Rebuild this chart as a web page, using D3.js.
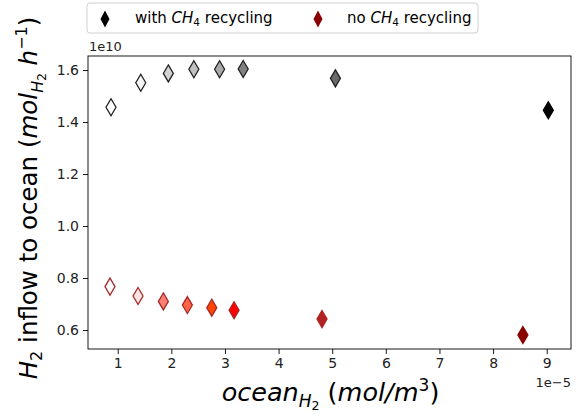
<!DOCTYPE html>
<html>
<head>
<meta charset="utf-8">
<script src="https://cdn.jsdelivr.net/npm/d3@7"></script>
<style>
  body { margin: 0; background: #fff; }
  svg { display: block; font-family: "DejaVu Sans", sans-serif; }
</style>
</head>
<body>
<div id="chart"></div>
<script>
// data (x in mol/m3, y in mol/h)
var oceanWith  = [0.875e-5, 1.43e-5, 1.944e-5, 2.42e-5, 2.90e-5, 3.34e-5, 5.06e-5, 9.03e-5];
var inflowWith = [1.457e10, 1.551e10, 1.587e10, 1.603e10, 1.603e10, 1.604e10, 1.568e10, 1.445e10];
var fillWith   = ["#ffffff", "#f5f5f5", "#d3d3d3", "#c0c0c0", "#a9a9a9", "#808080", "#696969", "#000000"];

var oceanNo  = [0.856e-5, 1.379e-5, 1.851e-5, 2.299e-5, 2.754e-5, 3.17e-5, 4.81e-5, 8.556e-5];
var inflowNo = [0.767e10, 0.731e10, 0.710e10, 0.696e10, 0.686e10, 0.676e10, 0.642e10, 0.581e10];
var fillNo   = ["#ffffff", "#ffe4e1", "#fa8072", "#ff6347", "#ff4500", "#ff0000", "#b22222", "#8b0000"];

var xTicks = [1e-5, 2e-5, 3e-5, 4e-5, 5e-5, 6e-5, 7e-5, 8e-5, 9e-5];
var yTicks = [0.6e10, 0.8e10, 1.0e10, 1.2e10, 1.4e10, 1.6e10];

var W = 586, H = 418;
var margin = {top: 56, right: 15, bottom: 69, left: 88};
var width = W - margin.left - margin.right,
    height = H - margin.top - margin.bottom;

var svg = d3.select("#chart").append("svg")
  .attr("width", W)
  .attr("height", H);

var g = svg.append("g")
  .attr("transform", "translate(" + margin.left + "," + margin.top + ")");

var x = d3.scaleLinear().domain([0.446e-5, 9.453e-5]).range([0, width]);
var y = d3.scaleLinear().domain([0.527e10, 1.654e10]).range([height, 0]);

// axes
var xAxis = g.append("g")
  .attr("transform", "translate(0," + height + ")")
  .call(d3.axisBottom(x).tickValues(xTicks).tickSize(5).tickPadding(4)
    .tickFormat(function(d) { return Math.round(d / 1e-5); }));
var yAxis = g.append("g")
  .call(d3.axisLeft(y).tickValues(yTicks).tickSize(5).tickPadding(4)
    .tickFormat(function(d) { return (d / 1e10).toFixed(1); }));

[xAxis, yAxis].forEach(function(a) {
  a.selectAll("text").attr("font-size", 14).attr("fill", "#222").attr("font-family", "DejaVu Sans");
  a.selectAll("line").attr("stroke", "#000").attr("stroke-width", 0.9);
  a.select(".domain").remove();
});

g.append("rect")
  .attr("width", width).attr("height", height)
  .attr("fill", "none").attr("stroke", "#000").attr("stroke-width", 0.9);

// thin diamond marker
function diamond(cx, cy, hw, hh) {
  return "M" + cx + "," + (cy - hh) + "L" + (cx + hw) + "," + cy +
         "L" + cx + "," + (cy + hh) + "L" + (cx - hw) + "," + cy + "Z";
}

g.selectAll(".ptWith")
  .data(oceanWith)
  .enter().append("path")
  .attr("class", "ptWith")
  .attr("d", function(d, i) { return diamond(x(d), y(inflowWith[i]), 5, 8.5); })
  .attr("fill", function(d, i) { return fillWith[i]; })
  .attr("stroke", function(d, i) { return i == 7 ? "#000" : "#222"; })
  .attr("stroke-width", 1.3);

g.selectAll(".ptNo")
  .data(oceanNo)
  .enter().append("path")
  .attr("class", "ptNo")
  .attr("d", function(d, i) { return diamond(x(d), y(inflowNo[i]), 5, 8.5); })
  .attr("fill", function(d, i) { return fillNo[i]; })
  .attr("stroke", function(d, i) { return i >= 6 ? fillNo[i] : "#a52a2a"; })
  .attr("stroke-width", 1.3);

// offset texts
svg.append("text")
  .attr("x", margin.left + 1).attr("y", 51)
  .attr("font-size", 13).attr("fill", "#222")
  .text("1e10");
svg.append("text")
  .attr("x", W - margin.right).attr("y", 387)
  .attr("text-anchor", "end")
  .attr("font-size", 13).attr("fill", "#222")
  .text("1e\u22125");

// x label
var xl = svg.append("text")
  .attr("x", margin.left + width / 2 + 1).attr("y", 401)
  .attr("text-anchor", "middle")
  .attr("font-size", 25.5);
xl.append("tspan").attr("font-style", "italic").text("ocean");
xl.append("tspan").attr("font-style", "italic").attr("font-size", 17).attr("dy", 6).text("H");
xl.append("tspan").attr("font-size", 12.5).attr("dy", 3).text("2");
xl.append("tspan").attr("dy", -9).text(" (");
xl.append("tspan").attr("font-style", "italic").text("mol/m");
xl.append("tspan").attr("font-size", 17).attr("dy", -10).text("3");
xl.append("tspan").attr("dy", 10).text(")");

// y label
var yl = svg.append("text")
  .attr("transform", "translate(37," + 198 + ") rotate(-90)")
  .attr("text-anchor", "middle")
  .attr("font-size", 24.5);
yl.append("tspan").attr("font-style", "italic").text("H");
yl.append("tspan").attr("font-size", 16).attr("dy", 5).text("2");
yl.append("tspan").attr("dy", -5).text(" inflow to ocean (");
yl.append("tspan").attr("font-style", "italic").text("mol");
yl.append("tspan").attr("font-style", "italic").attr("font-size", 16).attr("dy", 6).text("H");
yl.append("tspan").attr("font-size", 12).attr("dy", 3).text("2");
yl.append("tspan").attr("font-style", "italic").attr("dy", -9).text(" h");
yl.append("tspan").attr("font-size", 16).attr("dy", -10).text("\u22121");
yl.append("tspan").attr("dy", 10).text(")");

// legend
var leg = svg.append("g");
leg.append("rect")
  .attr("x", 87).attr("y", 3).attr("width", 391).attr("height", 30)
  .attr("rx", 3).attr("fill", "#fff").attr("stroke", "#d0d0d0");

var legItems = [
  {color: "#000000", mx: 105, tx: 135, pre: "with "},
  {color: "#8b0000", mx: 318, tx: 347, pre: "no "}
];
legItems.forEach(function(it) {
  leg.append("path").attr("d", diamond(it.mx, 19, 4.5, 8.5)).attr("fill", it.color);
  var t = leg.append("text").attr("x", it.tx).attr("y", 23).attr("font-size", 15);
  t.append("tspan").text(it.pre);
  t.append("tspan").attr("font-style", "italic").text("CH");
  t.append("tspan").attr("font-size", 10.5).attr("dy", 3).text("4");
  t.append("tspan").attr("dy", -3).text(" recycling");
});
</script>
</body>
</html>
